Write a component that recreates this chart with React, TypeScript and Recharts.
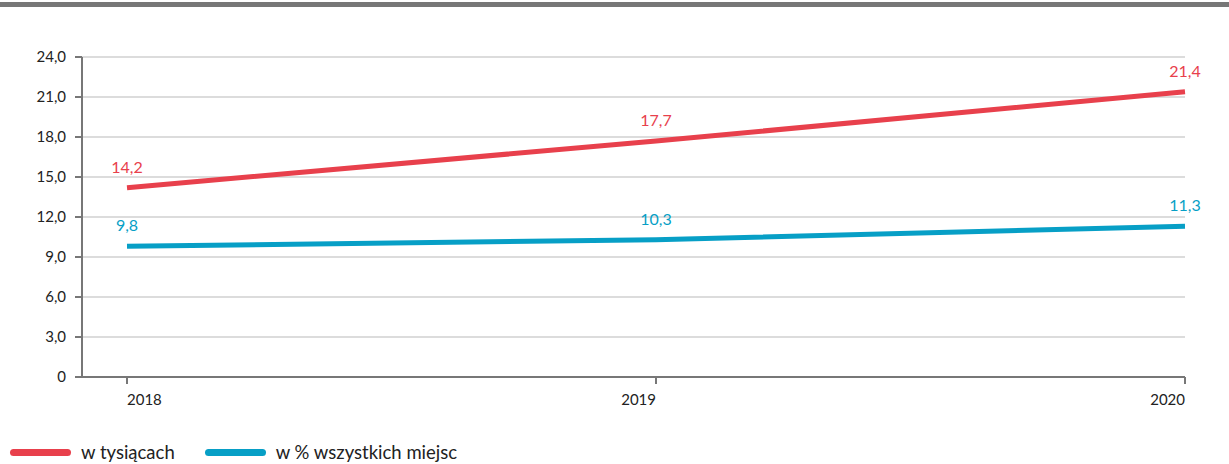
import React from 'react';
import {
  LineChart, Line, XAxis, YAxis, CartesianGrid, LabelList,
} from 'recharts';

const years = ['2018', '2019', '2020'];
const thousands = [14.2, 17.7, 21.4];
const percentShare = [9.8, 10.3, 11.3];
const yTicks = [0, 3, 6, 9, 12, 15, 18, 21, 24];

const RED = '#e8404c';
const BLUE = '#079fc6';
const AXIS = '#777777';

const data = years.map((y, i) => ({ year: y, tys: thousands[i], pct: percentShare[i] }));

const fmt = (v: number) => (v === 0 ? '0' : v.toFixed(1).replace('.', ','));

const XTick = (props: any) => {
  const { x, y, payload, index } = props;
  const anchor = index === 0 ? 'start' : 'end';
  return (
    <text x={x} y={y + 19} textAnchor={anchor} fontSize={15} fill="#222" fontFamily="Lato">
      {payload.value}
    </text>
  );
};

const LegendBox = () => (
  <div style={{ display: 'flex', alignItems: 'center', fontFamily: 'Lato', fontSize: 18.5, color: '#222' }}>
    <span style={{ display: 'inline-block', width: 61, height: 7, borderRadius: 4, background: RED, marginLeft: 10 }} />
    <span style={{ marginLeft: 10 }}>w tysiącach</span>
    <span style={{ display: 'inline-block', width: 61, height: 7, borderRadius: 4, background: BLUE, marginLeft: 30 }} />
    <span style={{ marginLeft: 10 }}>w % wszystkich miejsc</span>
  </div>
);

export default function App() {
  return (
    <div style={{ position: 'absolute', left: 0, top: 0, width: 1229, height: 464, background: '#fff' }}>
      <div style={{ position: 'absolute', left: 0, top: 2, width: 1229, height: 5, background: AXIS }} />
      <LineChart
        width={1229}
        height={464}
        data={data}
        margin={{ top: 57, right: 44, left: 0, bottom: 0 }}
        style={{ fontFamily: 'Lato' }}
      >
        <CartesianGrid horizontal vertical={false} stroke="#dcdcdc" strokeWidth={2} />
        <XAxis
          dataKey="year"
          padding={{ left: 45, right: 0 }}
          stroke={AXIS}
          strokeWidth={2}
          tickSize={7}
          tick={<XTick />}
          height={87}
          interval={0}
        />
        <YAxis
          domain={[0, 24]}
          ticks={yTicks}
          width={82}
          stroke={AXIS}
          strokeWidth={2}
          tickSize={7}
          tickMargin={9}
          tickFormatter={fmt}
          tick={{ fill: '#222', fontSize: 15, fontFamily: 'Lato' }}
          interval={0}
        />
        <Line dataKey="tys" stroke={RED} strokeWidth={5} dot={false} isAnimationActive={false}>
          <LabelList dataKey="tys" position="top" offset={15} formatter={(v: any) => fmt(Number(v))}
            style={{ fill: RED, fontSize: 16, fontFamily: 'Lato' }} />
        </Line>
        <Line dataKey="pct" stroke={BLUE} strokeWidth={5} dot={false} isAnimationActive={false}>
          <LabelList dataKey="pct" position="top" offset={15} formatter={(v: any) => fmt(Number(v))}
            style={{ fill: BLUE, fontSize: 16, fontFamily: 'Lato' }} />
        </Line>
      </LineChart>
      <div style={{ position: 'absolute', left: 0, top: 441 }}>
        <LegendBox />
      </div>
    </div>
  );
}
